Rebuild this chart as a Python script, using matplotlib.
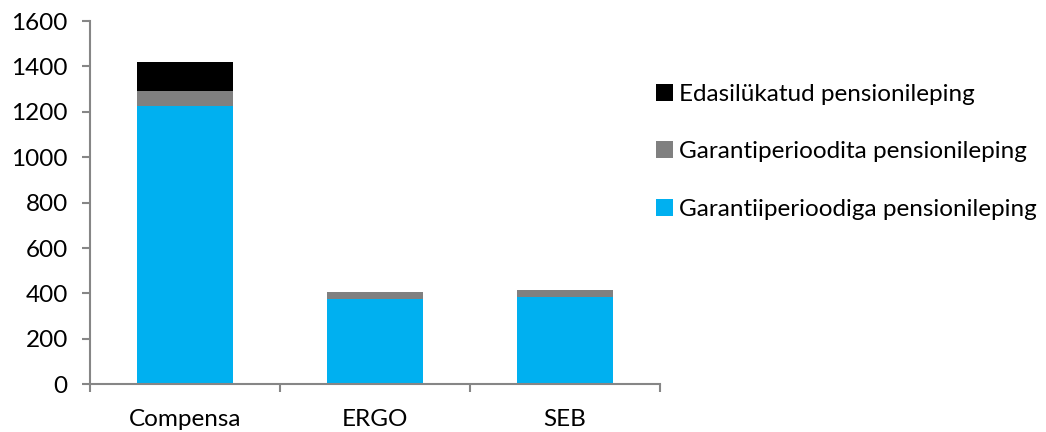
import matplotlib
matplotlib.use("Agg")
import matplotlib.pyplot as plt
import numpy as np

categories = ["Compensa", "ERGO", "SEB"]
garantiiga = [1225, 374, 383]
garantiita = [68, 34, 32]
edasilykatud = [126, 0, 0]
labels = ["Edasilükatud pensionileping", "Garantiperioodita pensionileping",
          "Garantiiperioodiga pensionileping"]
yticks = [0, 200, 400, 600, 800, 1000, 1200, 1400, 1600]

plt.rcParams['font.family'] = ['Lato', 'DejaVu Sans']
FS = 17.5

fig = plt.figure(figsize=(10.46, 4.32), dpi=100)
ax = fig.add_axes([90/1046, (432-384.3)/432, (660-90)/1046, (384.3-21)/432])

x = np.arange(len(categories))
w = 0.505
b1 = ax.bar(x, garantiiga, w, color="#00B0F0", label=labels[2])
b2 = ax.bar(x, garantiita, w, bottom=garantiiga, color="#808080", label=labels[1])
bottom2 = np.array(garantiiga) + np.array(garantiita)
b3 = ax.bar(x, edasilykatud, w, bottom=bottom2, color="#000000", label=labels[0])

ax.set_xlim(-0.5, 2.5)
ax.set_ylim(0, 1600)
ax.set_yticks(yticks)
ax.set_yticklabels([str(v) for v in yticks], fontsize=FS)
ax.set_xticks(x)
ax.set_xticklabels(categories, fontsize=FS)
ax.set_xticks([-0.5, 0.5, 1.5, 2.5], minor=True)
ax.tick_params(axis='x', which='major', length=0, pad=18)
ax.tick_params(axis='x', which='minor', length=6, width=1.5, color="#868686")
ax.tick_params(axis='y', length=6, width=1.5, color="#868686", pad=10)

for s in ["top", "right"]:
    ax.spines[s].set_visible(False)
for s in ["left", "bottom"]:
    ax.spines[s].set_color("#868686")
    ax.spines[s].set_linewidth(1.5)

fig.legend(handles=[b3, b2, b1], labels=labels, loc="upper left",
           bbox_to_anchor=(634/1046, 1 - 62/432), frameon=False, fontsize=FS,
           handlelength=0.7, handleheight=0.7, handletextpad=0.25, labelspacing=1.5)

fig.savefig("out.png", dpi=100)
